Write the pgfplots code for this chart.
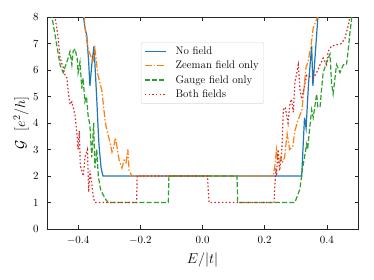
\documentclass[border=0pt]{standalone}
\usepackage{pgfplots}
\pgfplotsset{compat=1.18}
\definecolor{tabblue}{HTML}{1F77B4}
\definecolor{taborange}{HTML}{FF7F0E}
\definecolor{tabgreen}{HTML}{2CA02C}
\definecolor{tabred}{HTML}{D62728}
\begin{document}
\begin{tikzpicture}
\begin{axis}[
  scale only axis, width=311bp, height=212bp,
  xmin=-0.5, xmax=0.5, ymin=0, ymax=8,
  xtick={-0.4,-0.2,0,0.2,0.4}, ytick={0,1,2,3,4,5,6,7,8},
  tick align=inside, tick pos=both, major tick length=3.5bp,
  axis line style={line width=0.8bp, black!85},
  every tick/.style={black!85, line width=0.8bp},
  tick label style={font=\fontsize{10.5}{12}\selectfont},
  x tick label style={/pgf/number format/fixed, /pgf/number format/fixed zerofill, /pgf/number format/precision=1, yshift=-4bp},
  y tick label style={xshift=-5bp},
  xlabel={$E/|t|$}, ylabel={$\mathcal{G}\ \ [e^2/h]$},
  label style={font=\fontsize{14}{16}\selectfont},
  xlabel style={at={([yshift=-31bp]axis description cs:0.5,0)}, anchor=center},
  ylabel style={at={([xshift=-26bp]axis description cs:0,0.5)}, anchor=center},
  legend cell align=left,
  legend style={at={(0.302,0.882)}, anchor=north west, draw=black!15, rounded corners=2bp,
    fill=white, font=\fontsize{11}{13}\selectfont, inner xsep=3bp, inner ysep=2.5bp, row sep=1.2bp},
  legend image code/.code={\draw[#1, line width=1.5bp] (0bp,0bp) -- (21bp,0bp);},
  /tikz/every odd column/.append style={column sep=7bp},
  every axis plot/.append style={line width=1.2bp},
]
\addplot[tabblue, solid] coordinates {
(-0.400,10) (-0.385,8.2) (-0.378,7.6) (-0.372,7.3) (-0.366,6.3) (-0.362,5.4) (-0.356,6.2)
(-0.349,6.9) (-0.344,5.8) (-0.340,4.9) (-0.336,3.9) (-0.333,3.2) (-0.330,2.8) (-0.326,2.3)
(-0.320,2.0) (0.319,2.0) (0.323,3.0) (0.328,4.2) (0.333,3.8) (0.341,5.5) (0.351,6.9)
(0.355,5.4) (0.362,6.5) (0.371,8.0) (0.380,10)
};
\addlegendentry{No field}
\addplot[taborange, dash pattern=on 7bp off 2bp on 1.5bp off 2bp] coordinates {
(-0.400,10) (-0.380,8.0) (-0.378,7.6) (-0.368,6.8) (-0.352,6.3) (-0.346,6.8) (-0.336,5.8)
(-0.323,5.2) (-0.318,4.6) (-0.312,4.0) (-0.307,3.7) (-0.298,3.3) (-0.291,2.9) (-0.285,3.1)
(-0.280,3.45) (-0.275,3.1) (-0.268,2.6) (-0.259,2.3) (-0.252,2.6) (-0.246,2.5) (-0.240,3.0)
(-0.236,2.2) (-0.227,2.0) (0.227,2.0) (0.233,2.4) (0.238,3.0) (0.242,2.6) (0.246,2.5) (0.252,2.7)
(0.256,2.5) (0.264,2.7) (0.272,3.6) (0.280,3.0) (0.290,3.1) (0.297,3.7) (0.307,4.1)
(0.320,4.5) (0.323,4.9) (0.333,6.1) (0.339,6.3) (0.350,7.0) (0.356,7.6) (0.370,8.0) (0.390,10)
};
\addlegendentry{Zeeman field only}
\addplot[tabgreen, dash pattern=on 5bp off 2.2bp] coordinates {
(-0.500,9.5) (-0.484,8.0) (-0.468,6.9) (-0.458,6.2) (-0.448,5.9) (-0.432,6.45) (-0.426,6.7)
(-0.420,6.2) (-0.416,6.7) (-0.410,6.8) (-0.403,6.45) (-0.400,5.9) (-0.394,6.3) (-0.388,5.3)
(-0.384,5.7) (-0.378,4.8) (-0.373,5.0) (-0.368,4.3) (-0.362,3.9) (-0.356,2.7) (-0.350,4.0)
(-0.346,2.3) (-0.340,3.0) (-0.335,2.0) (-0.328,1.5) (-0.320,1.3) (-0.310,1.1) (-0.303,1.0)
(-0.110,1.0) (-0.108,2.0) (0.111,2.0) (0.113,1.0) (0.297,1.0) (0.313,1.5) (0.322,2.3)
(0.335,3.2) (0.338,3.0) (0.345,3.85) (0.351,4.5) (0.356,4.2) (0.367,5.1) (0.371,4.6)
(0.378,4.6) (0.383,5.3) (0.388,5.9) (0.399,6.3) (0.410,6.6) (0.415,5.5) (0.420,5.1)
(0.431,6.2) (0.442,5.9) (0.453,6.2) (0.463,6.2) (0.469,6.8) (0.474,7.4) (0.480,8.0) (0.495,10)
};
\addlegendentry{Gauge field only}
\addplot[tabred, dash pattern=on 1.5bp off 2.2bp] coordinates {
(-0.490,10) (-0.474,8.0) (-0.465,7.3) (-0.458,6.45) (-0.448,6.1) (-0.442,5.8) (-0.436,5.7)
(-0.432,5.2) (-0.426,4.7) (-0.420,4.8) (-0.416,4.6) (-0.410,4.3) (-0.403,3.5) (-0.400,3.0)
(-0.396,3.7) (-0.393,2.4) (-0.383,2.0) (-0.378,2.7) (-0.370,3.0) (-0.366,1.4) (-0.362,2.2)
(-0.356,1.7) (-0.351,1.2) (-0.346,1.0) (-0.212,1.0) (-0.210,2.0) (0.016,2.0) (0.021,1.0)
(0.230,1.0) (0.233,1.7) (0.236,2.3) (0.238,2.0) (0.243,3.0) (0.248,2.2) (0.253,2.7)
(0.256,3.2) (0.260,4.5) (0.266,4.6) (0.275,4.0) (0.281,4.7) (0.286,4.9) (0.292,4.4)
(0.297,5.5) (0.308,6.2) (0.313,5.3) (0.319,4.9) (0.335,5.8) (0.356,5.7) (0.367,5.9)
(0.378,6.2) (0.388,6.45) (0.399,6.2) (0.404,6.7) (0.415,6.9) (0.431,6.95) (0.447,7.0)
(0.458,7.2) (0.469,7.7) (0.474,8.0) (0.490,10)
};
\addlegendentry{Both fields}
\end{axis}
\pgfresetboundingbox
\useasboundingbox (-47bp,-51bp) rectangle (327bp,229bp);
\end{tikzpicture}
\end{document}
